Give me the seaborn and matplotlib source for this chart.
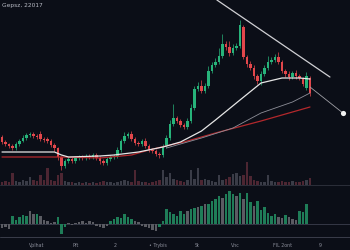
import numpy as np
import pandas as pd
import matplotlib
matplotlib.use("Agg")
import matplotlib.pyplot as plt
import seaborn as sns

# ---------------- data ----------------
title = "Gepsz, 22017"

opens = [63,58,56,54,52,56,59,62,65,66,
         64,66,61,61,59,55,52,43,34,39,
         41,39,42,43,42,44,43,45,42,39,
         37,41,43,44,50,59,64,66,61,57,
         56,59,54,50,49,46,45,54,62,76,
         82,79,75,73,79,92,111,114,109,114,
         129,135,138,144,156,153,147,152,154,173,
         143,136,132,124,119,126,132,138,140,143,
         138,129,126,123,127,124,121,112,122]
closes = [58,56,54,52,56,59,62,65,66,64,
          63,61,60,59,55,52,43,34,39,41,
          39,42,43,42,44,43,45,42,39,37,
          41,43,44,50,59,64,66,61,57,56,
          59,54,50,49,46,45,54,62,76,82,
          79,75,73,79,92,111,114,109,114,129,
          135,138,144,156,153,147,152,154,175,143,
          136,132,124,119,126,132,138,140,143,138,
          129,126,123,127,124,122,116,124,107]
wick_up = [2,2,1,2,2,2,3,2,2,2, 2,3,2,2,2,2,1,1,2,2,
           2,2,2,2,2,2,2,2,2,2, 2,2,2,3,2,4,2,3,2,2,
           2,3,2,2,2,2,2,3,4,14, 2,2,2,3,4,3,4,6,3,5,
           3,4,8,10,3,6,4,3,5,2, 2,3,3,2,3,3,6,3,3,5,
           2,2,3,2,3,2,2,4,2]
wick_dn = [2,2,2,2,2,2,1,2,2,2, 2,2,2,2,2,3,3,4,2,2,
           2,2,2,2,2,2,2,2,3,2, 2,2,2,2,2,2,2,2,2,2,
           2,2,2,2,2,3,2,2,2,2, 2,2,2,2,2,2,2,2,2,2,
           2,2,2,2,3,3,2,2,2,2, 3,2,3,3,4,2,2,2,2,2,
           2,3,3,2,3,2,2,2,3]
volume = [3,4,3,12,4,3,5,4,8,5, 4,10,5,17,5,4,10,12,4,3,
          3,2,3,2,3,2,3,2,3,4, 3,3,2,3,4,5,4,3,15,4,
          3,3,2,3,4,5,15,8,12,6, 5,4,3,5,15,6,17,5,6,5,
          4,3,10,5,6,8,11,12,9,10, 23,9,5,4,3,3,10,4,3,3,
          4,3,3,4,3,3,4,5,7]
hist = [-4,-3,-5,8,4,7,9,8,13,10, 10,8,4,3,1,2,7,-10,-3,1,
        -1,1,2,3,1,3,2,-2,-3,-4, -2,3,5,7,6,10,7,5,3,2,
        -2,-3,-4,-6,-7,-3,3,15,12,10, 8,13,10,13,15,16,17,18,20,20,
        23,25,28,26,30,33,30,28,31,25, 31,22,18,23,14,17,11,8,10,7,
        6,9,7,5,4,13,12,20,0]
hist_green = [0,0,0,1,1,1,1,1,0,0, 1,0,0,0,0,0,1,1,1,0,
              0,0,0,0,0,0,0,0,0,0, 0,1,1,1,1,1,1,1,0,0,
              0,0,0,0,0,1,1,1,1,1, 1,1,1,0,1,1,0,1,0,1,
              1,1,1,0,1,1,1,0,1,0, 1,1,0,1,1,1,1,1,1,0,
              0,1,0,0,0,1,1,1,1]

ma_white_idx = [0, 15, 17, 19, 28, 32, 39, 46, 51, 57, 61, 68, 74, 80, 85, 88]
ma_white_val = [48, 48, 45, 43, 44, 45, 48, 53, 58, 69, 80, 100, 117, 122, 122, 121]
ma_red_idx = [0, 17, 28, 37, 42, 48, 52, 61, 74, 88]
ma_red_val = [43, 43, 42, 45, 50, 55, 58, 67, 79, 93]
ma_grey_idx = [47, 52, 57, 66, 74, 83, 88]
ma_grey_val = [52, 57, 62, 72, 87, 98, 107]

trend_idx = [61.4, 93.7]
trend_val = [200, 123]
proj_idx = [88, 97.4]
proj_val = [113, 87]

tick_pos = [10, 21.1, 32.3, 44.6, 55.7, 66.6, 80.3, 90.9]
tick_labels = ["Vplhat", "Pft", "2", "\u2022 Trybis", "St", "Vnc", "FIL 2ont", "9"]

# ---------------- style ----------------
BG = "#0b0e17"
GREEN = "#27b37a"
RED = "#e2474b"
sns.set_theme(style="dark", rc={
    "figure.facecolor": BG, "axes.facecolor": BG,
    "axes.edgecolor": BG, "text.color": "#b5b8c2",
    "xtick.color": "#8a8d99", "ytick.color": "#8a8d99",
})

df = pd.DataFrame({"open": opens, "close": closes,
                   "wu": wick_up, "wd": wick_dn,
                   "vol": volume, "hist": hist, "hg": hist_green})
df["i"] = np.arange(len(df))
df["up"] = df["close"] >= df["open"]
df["top"] = df[["open", "close"]].max(axis=1)
df["bot"] = df[["open", "close"]].min(axis=1)
df["high"] = df["top"] + df["wu"]
df["low"] = df["bot"] - df["wd"]

fig = plt.figure(figsize=(3.5, 2.5), dpi=100)
XL = (-0.571, 99.43)

# volume panel (behind main)
axv = fig.add_axes([0, 0.26, 1, 0.10])
axv.set_facecolor(BG)
vcol = np.where(df["up"], "#3a3c47", "#4d2632")
axv.bar(df["i"], df["vol"], width=0.72, color=vcol, linewidth=0)
axv.set_xlim(*XL)
axv.set_ylim(0, 25)
axv.axis("off")

# main price panel
ax = fig.add_axes([0, 0.26, 1, 0.74])
ax.patch.set_alpha(0)
ccol = np.where(df["up"], GREEN, RED)
ax.vlines(df["i"], df["low"], df["high"], colors=ccol, linewidth=0.5)
ax.bar(df["i"], df["top"] - df["bot"] + 0.6, bottom=df["bot"] - 0.3,
       width=0.72, color=ccol, linewidth=0)

sns.lineplot(x=ma_red_idx, y=ma_red_val, ax=ax, color="#b3282c", linewidth=0.9)
sns.lineplot(x=ma_grey_idx, y=ma_grey_val, ax=ax, color="#8e8f99", linewidth=0.6)
sns.lineplot(x=ma_white_idx, y=ma_white_val, ax=ax, color="#e6e6e6", linewidth=0.9)
sns.lineplot(x=trend_idx, y=trend_val, ax=ax, color="#d0d0d4", linewidth=0.9)
sns.lineplot(x=proj_idx, y=proj_val, ax=ax, color="#a0a0a6", linewidth=0.6)
ax.scatter([proj_idx[-1]], [proj_val[-1]], s=14, color="#f2f2f2", zorder=5, linewidth=0)

ax.set_xlim(*XL)
ax.set_ylim(15, 200)
ax.axis("off")
ax.text(0.006, 0.985, title, transform=ax.transAxes, fontsize=4.2,
        color="#b8bbc5", va="top", ha="left")

# histogram panel
axh = fig.add_axes([0, 0.052, 1, 0.204])
axh.set_facecolor(BG)
hcol = np.where(df["hg"] == 1, "#1f7d58", "#5b5c63")
axh.bar(df["i"], df["hist"], width=0.72, color=hcol, linewidth=0)
axh.axhline(0, color="#353846", linewidth=0.7, zorder=0)
axh.set_xlim(*XL)
axh.set_ylim(-13, 38)
axh.axis("off")

# separators & ticks
fig.add_artist(plt.Line2D([0, 1], [0.26, 0.26], color="#2c2f3a", linewidth=0.7))
fig.add_artist(plt.Line2D([0, 1], [0.052, 0.052], color="#3a3d4a", linewidth=0.7))
axt = fig.add_axes([0, 0.052, 1, 0.001])
axt.set_xlim(*XL)
axt.patch.set_alpha(0)
for s in axt.spines.values():
    s.set_visible(False)
axt.set_yticks([])
axt.set_xticks(tick_pos)
axt.set_xticklabels(tick_labels, fontsize=3.4, color="#8a8d99")
axt.tick_params(axis="x", length=2, width=0.4, color="#4a4d5a", pad=2.5)

fig.savefig("out.png", dpi=100, facecolor=BG)
